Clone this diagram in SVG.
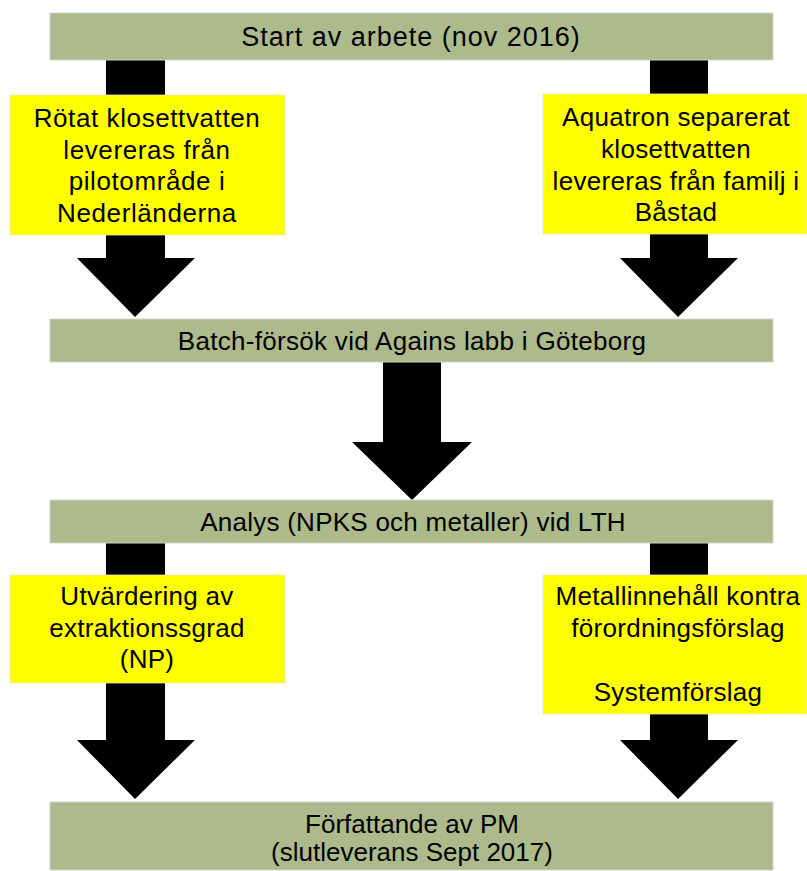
<svg xmlns="http://www.w3.org/2000/svg" width="807" height="871" viewBox="0 0 807 871">
<style>
.g{fill:#adba8b;stroke:#d0d3c8;stroke-width:1}
.y{fill:#ffff00;stroke:#e8e8c0;stroke-width:0.8}
.t{font-family:"Liberation Sans",Arial,sans-serif;font-size:26px;fill:#000;text-anchor:middle}
.arr{fill:#000}
</style>
<rect width="807" height="871" fill="#fff"/>
<g id="connectors">
<polygon class="arr" points="106,60 165,60 165,258 195,258 135,317 77,258 106,258"/>
<polygon class="arr" points="650,60 708,60 708,258 738,258 678,317 620,258 650,258"/>
<polygon class="arr" points="383,362 441,362 441,442 472,442 412,500 352,442 383,442"/>
<polygon class="arr" points="106,543 165,543 165,740 195,740 135,799 77,740 106,740"/>
<polygon class="arr" points="650,543 708,543 708,740 738,740 678,799 620,740 650,740"/>
</g>
<g id="start">
<rect class="g" x="50" y="13" width="723" height="47"/>
<text class="t" x="411" y="46" style="font-size:27px;letter-spacing:1px">Start av arbete (nov 2016)</text>
</g>
<g id="rotat">
<rect class="y" x="10" y="95" width="275" height="140"/>
<text class="t" x="147" y="127" style="letter-spacing:0.6px">Rötat klosettvatten</text>
<text class="t" x="147" y="159" style="letter-spacing:0.6px">levereras från</text>
<text class="t" x="147" y="190" style="letter-spacing:0.6px">pilotområde i</text>
<text class="t" x="147" y="222" style="letter-spacing:0.6px">Nederländerna</text>
</g>
<g id="aquatron">
<rect class="y" x="543" y="94" width="264" height="140"/>
<text class="t" x="676" y="126" style="letter-spacing:0.3px">Aquatron separerat</text>
<text class="t" x="676" y="158" style="letter-spacing:0.3px">klosettvatten</text>
<text class="t" x="676" y="190" style="letter-spacing:0.3px">levereras från familj i</text>
<text class="t" x="676" y="221" style="letter-spacing:0.3px">Båstad</text>
</g>
<g id="batch">
<rect class="g" x="50" y="319" width="723" height="43"/>
<text class="t" x="412" y="350" style="letter-spacing:0.3px">Batch-försök vid Agains labb i Göteborg</text>
</g>
<g id="analys">
<rect class="g" x="50" y="500" width="723" height="43"/>
<text class="t" x="413" y="531" style="letter-spacing:0.25px">Analys (NPKS och metaller) vid LTH</text>
</g>
<g id="utvardering">
<rect class="y" x="10" y="575" width="275" height="108"/>
<text class="t" x="147" y="605" style="letter-spacing:0.3px">Utvärdering av</text>
<text class="t" x="147" y="637" style="letter-spacing:0.3px">extraktionssgrad</text>
<text class="t" x="147" y="668" style="letter-spacing:0.3px">(NP)</text>
</g>
<g id="metall">
<rect class="y" x="543" y="575" width="264" height="139"/>
<text class="t" x="678" y="605" style="letter-spacing:0.3px">Metallinnehåll kontra</text>
<text class="t" x="678" y="637" style="letter-spacing:0.3px">förordningsförslag</text>
<text class="t" x="678" y="701" style="letter-spacing:0.3px">Systemförslag</text>
</g>
<g id="forfattande">
<rect class="g" x="50" y="802" width="723" height="68"/>
<text class="t" x="412" y="833">Författande av PM</text>
<text class="t" x="412" y="861">(slutleverans Sept 2017)</text>
</g>
</svg>
